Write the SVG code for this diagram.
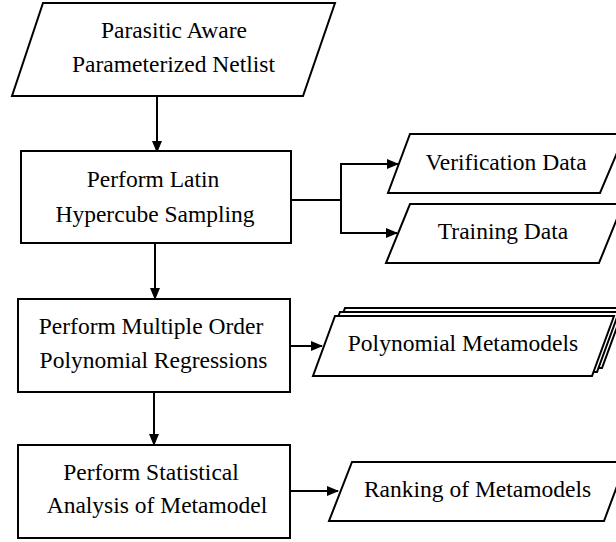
<svg xmlns="http://www.w3.org/2000/svg" width="616" height="542" viewBox="0 0 616 542">
<style>
.shape{fill:#fff;stroke:#000;stroke-width:2}
.conn{fill:none;stroke:#000;stroke-width:2}
.t{font-family:"Liberation Serif","Times New Roman",serif;font-size:23.5px;fill:#000;text-anchor:middle}
</style>
<defs>
<marker id="arr" markerWidth="12" markerHeight="10" refX="11" refY="5" orient="auto" markerUnits="userSpaceOnUse">
<path d="M0,0 L12,5 L0,10 Z" fill="#000"/>
</marker>
</defs>
<rect width="616" height="542" fill="#fff"/>
<g id="connectors">
<line class="conn" x1="157" y1="96" x2="157" y2="152" marker-end="url(#arr)"/>
<line class="conn" x1="155" y1="243" x2="155" y2="299" marker-end="url(#arr)"/>
<line class="conn" x1="154" y1="392" x2="154" y2="445" marker-end="url(#arr)"/>
<polyline class="conn" points="291,200 341,200"/>
<polyline class="conn" points="341,200 341,164 398,164" marker-end="url(#arr)"/>
<polyline class="conn" points="341,200 341,233 397,233" marker-end="url(#arr)"/>
<line class="conn" x1="290" y1="346" x2="322" y2="346" marker-end="url(#arr)"/>
<line class="conn" x1="290" y1="491" x2="338" y2="491" marker-end="url(#arr)"/>
</g>
<g id="netlist">
<polygon class="shape" points="43,3 335,3 303,96 12,96"/>
<text class="t" x="174" y="38">Parasitic Aware</text>
<text class="t" x="173.5" y="72">Parameterized Netlist</text>
</g>
<g id="lhs">
<rect class="shape" x="21" y="151" width="270" height="92"/>
<text class="t" x="153" y="187">Perform Latin</text>
<text class="t" x="155" y="222">Hypercube Sampling</text>
</g>
<g id="verification">
<polygon class="shape" points="410,134 625,134 600,193 388,193"/>
<text class="t" x="506" y="170">Verification Data</text>
</g>
<g id="training">
<polygon class="shape" points="410,204 623,204 599,263 386,263"/>
<text class="t" x="503" y="239">Training Data</text>
</g>
<g id="regressions">
<rect class="shape" x="18" y="299" width="272" height="93"/>
<text class="t" x="151" y="334">Perform Multiple Order</text>
<text class="t" x="153.5" y="368">Polynomial Regressions</text>
</g>
<g id="metamodels">
<polygon class="shape" points="345,308 624,308 602,368 323,368"/>
<polygon class="shape" points="340,312 619,312 597,372 318,372"/>
<polygon class="shape" points="335,316 614,316 592,376 313,376"/>
<text class="t" x="463" y="351">Polynomial Metamodels</text>
</g>
<g id="statistics">
<rect class="shape" x="18" y="445" width="272" height="93"/>
<text class="t" x="151" y="480">Perform Statistical</text>
<text class="t" x="157" y="513">Analysis of Metamodel</text>
</g>
<g id="ranking">
<polygon class="shape" points="352,462 626,462 604,521 329,521"/>
<text class="t" x="477.5" y="497">Ranking of Metamodels</text>
</g>
</svg>
